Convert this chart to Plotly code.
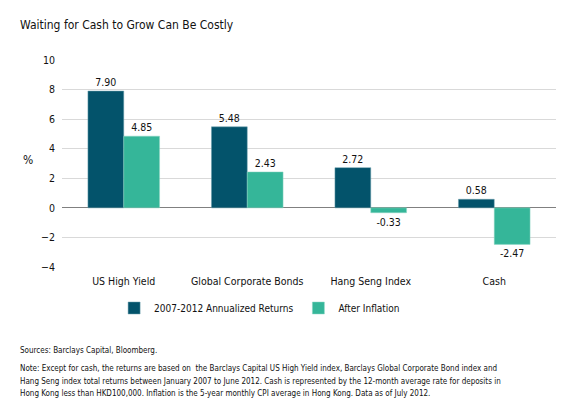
import plotly.graph_objects as go

categories = ["US High Yield", "Global Corporate Bonds", "Hang Seng Index", "Cash"]
annualized = [7.90, 5.48, 2.72, 0.58]
after_inflation = [4.85, 2.43, -0.33, -2.47]
series_names = ["2007-2012 Annualized Returns", "After Inflation"]

FONT = "DejaVu Sans Condensed, Liberation Sans Narrow, sans-serif"
DARK = "#03536B"
GREEN = "#35B699"

fig = go.Figure()
fig.add_trace(go.Bar(
    x=categories, y=annualized, name=series_names[0],
    marker=dict(color=DARK, line=dict(color="#6FA0AE", width=0.5)),
    text=[f"{v:.2f}" for v in annualized], textposition="outside",
    textfont=dict(size=10.5, color="#111111", family=FONT), cliponaxis=False,
))
fig.add_trace(go.Bar(
    x=categories, y=after_inflation, name=series_names[1],
    marker=dict(color=GREEN, line=dict(color="#8ED6C4", width=0.5)),
    text=[f"{v:.2f}" for v in after_inflation], textposition="outside",
    textfont=dict(size=10.5, color="#111111", family=FONT), cliponaxis=False,
))

notes = [
    ("Sources: Barclays Capital, Bloomberg.", 350),
    ("Note: Except for cash, the returns are based on  the Barclays Capital US High Yield index, Barclays Global Corporate Bond index and", 368),
    ("Hang Seng index total returns between January 2007 to June 2012. Cash is represented by the 12-month average rate for deposits in", 381),
    ("Hong Kong less than HKD100,000. Inflation is the 5-year monthly CPI average in Hong Kong. Data as of July 2012.", 393),
]
annotations = []
for txt, ypx in notes:
    annotations.append(dict(
        text=txt, xref="paper", yref="paper", x=(18 - 62) / 494, y=(267 - ypx) / 207,
        xanchor="left", yanchor="middle", showarrow=False,
        font=dict(size=8, color="#111111", family=FONT),
    ))
annotations.append(dict(
    text="%", xref="paper", yref="paper", x=(28 - 62) / 494, y=(267 - 160) / 207,
    xanchor="center", yanchor="middle", showarrow=False,
    font=dict(size=12, color="#111111", family=FONT),
))

fig.update_layout(
    width=576, height=408,
    margin=dict(l=62, r=20, t=60, b=141),
    paper_bgcolor="white", plot_bgcolor="white",
    font=dict(family=FONT, size=10, color="#111111"),
    title=dict(text="Waiting for Cash to Grow Can Be Costly", x=20 / 576, xanchor="left",
               y=1 - 25 / 408, yanchor="middle",
               font=dict(size=12, color="#111111", family=FONT)),
    barmode="group", bargap=0.42, bargroupgap=0,
    showlegend=True,
    legend=dict(orientation="h", x=0.40, xanchor="center", y=(267 - 308) / 207, yanchor="middle",
                font=dict(size=10, family=FONT), itemwidth=30, traceorder="normal"),
    annotations=annotations,
    xaxis=dict(showgrid=False, showline=False, ticks="", tickfont=dict(size=10.5),
               ticklabelstandoff=6, anchor="y", side="bottom"),
    yaxis=dict(range=[-4, 10], dtick=2, showgrid=True, gridcolor="#D9D9D9", gridwidth=1,
               zeroline=True, zerolinecolor="#808080", zerolinewidth=1.2,
               ticks="", tickfont=dict(size=10.5), ticklabelstandoff=6, showline=False),
)

fig.write_html("out.html")
